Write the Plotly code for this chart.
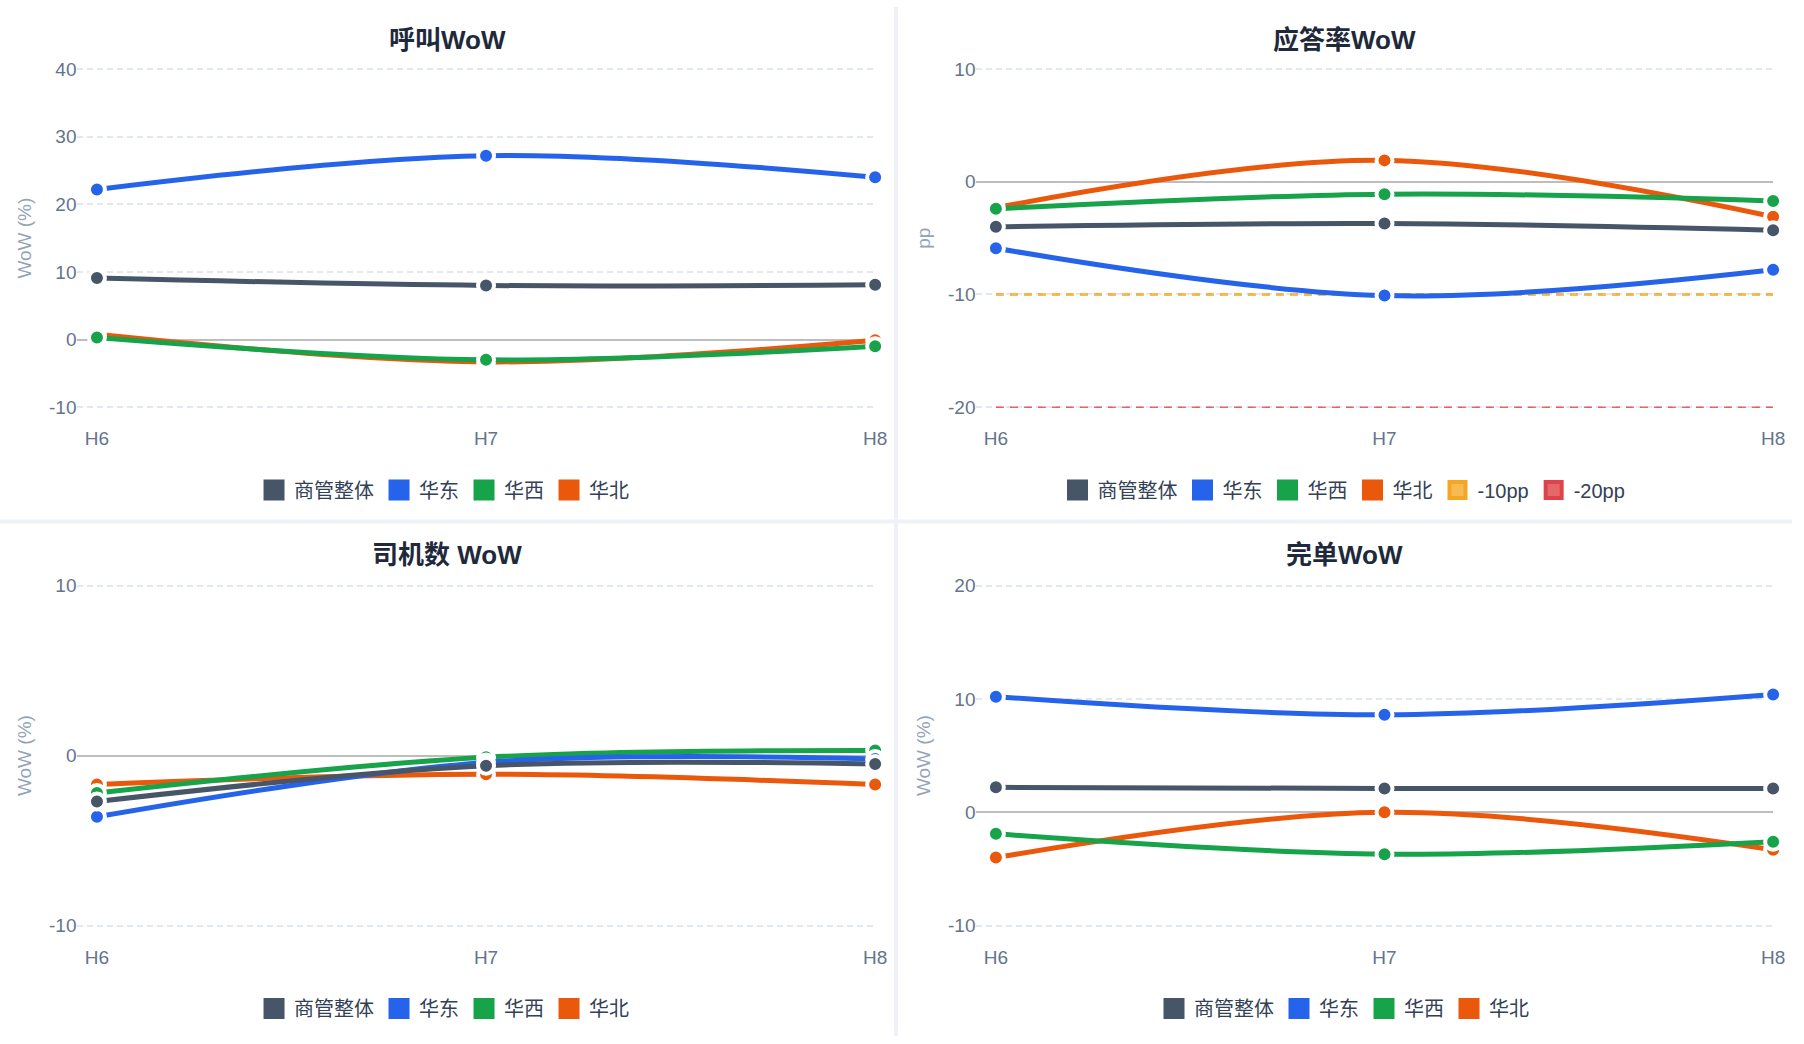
import plotly.graph_objects as go
from plotly.subplots import make_subplots

hours = ['H6', 'H7', 'H8']
series_names = ['商管整体', '华东', '华西', '华北']
series_colors = ['#475569', '#2563eb', '#16a34a', '#ea580c']

# 呼叫WoW (%)
call_all = [9.1, 8.0, 8.1]
call_east = [22.2, 27.2, 24.0]
call_west = [0.3, -3.0, -1.0]
call_north = [0.8, -3.3, -0.1]
call_ticks = [-10, 0, 10, 20, 30, 40]

# 应答率WoW (pp)
answer_all = [-4.0, -3.7, -4.3]
answer_east = [-5.9, -10.1, -7.8]
answer_west = [-2.4, -1.1, -1.7]
answer_north = [-2.3, 1.9, -3.1]
answer_ticks = [-20, -10, 0, 10]
ref_values = [-10, -20]
ref_names = ['-10pp', '-20pp']

# 司机数 WoW (%)
driver_all = [-2.7, -0.6, -0.5]
driver_east = [-3.6, -0.4, -0.2]
driver_west = [-2.2, -0.1, 0.3]
driver_north = [-1.7, -1.1, -1.7]
driver_ticks = [-10, 0, 10]

# 完单WoW (%)
order_all = [2.2, 2.1, 2.1]
order_east = [10.2, 8.6, 10.4]
order_west = [-1.9, -3.7, -2.6]
order_north = [-4.0, 0.0, -3.3]
order_ticks = [-10, 0, 10, 20]

FONT = 'Liberation Sans, Noto Sans CJK SC, sans-serif'
PAD_PX = 3          # extra room so edge gridlines are drawn
PLOT_H = 343        # pixel height between first and last tick

fig = make_subplots(rows=2, cols=2)

panels = [
    (1, 1, [call_all, call_east, call_west, call_north], 'legend', call_ticks, 'WoW (%)'),
    (1, 2, [answer_all, answer_east, answer_west, answer_north], 'legend2', answer_ticks, 'pp'),
    (2, 1, [driver_all, driver_east, driver_west, driver_north], 'legend3', driver_ticks, 'WoW (%)'),
    (2, 2, [order_all, order_east, order_west, order_north], 'legend4', order_ticks, 'WoW (%)'),
]

ref_line_colors = ['rgba(245,158,11,0.7)', 'rgba(220,38,38,0.7)']
ref_fill = ['#f8bb54', '#e66767']
ref_border = ['#f5a623', '#e0424a']
ref_widths = [3, 1.5]

for row, col, values, lg, ticks, ytitle in panels:
    has_refs = (row, col) == (1, 2)
    if has_refs:
        for k, rv in enumerate(ref_values):
            fig.add_trace(go.Scatter(x=hours, y=[rv] * len(hours), mode='lines',
                                     line=dict(color=ref_line_colors[k], width=ref_widths[k], dash='8px,6px'),
                                     showlegend=False, hoverinfo='skip'),
                          row=row, col=col)
    # draw last series first so 商管整体 ends up on top
    for i in reversed(range(len(series_names))):
        c = series_colors[i]
        fig.add_trace(go.Scatter(x=hours, y=values[i], mode='lines+markers',
                                 line=dict(shape='spline', width=5, color=c),
                                 marker=dict(size=16, color=c, line=dict(width=4, color='white')),
                                 cliponaxis=False, showlegend=False, name=series_names[i]),
                      row=row, col=col)
    # legend entries (square icons)
    for i, name in enumerate(series_names):
        c = series_colors[i]
        fig.add_trace(go.Scatter(x=[None], y=[None], mode='markers', name=name, legend=lg,
                                 marker=dict(symbol='square', size=16, color=c, line=dict(width=5, color=c))),
                      row=row, col=col)
    if has_refs:
        for k, name in enumerate(ref_names):
            fig.add_trace(go.Scatter(x=[None], y=[None], mode='markers', name=name, legend=lg,
                                     marker=dict(symbol='square', size=16, color=ref_fill[k],
                                                 line=dict(width=4, color=ref_border[k]))),
                          row=row, col=col)

    pad = (ticks[-1] - ticks[0]) * PAD_PX / PLOT_H
    fig.update_yaxes(range=[ticks[0] - pad, ticks[-1] + pad],
                     tickmode='array', tickvals=ticks, ticktext=[str(t) for t in ticks],
                     showgrid=True, gridcolor='#e2e8f0', griddash='6px,4px', gridwidth=1.6,
                     zeroline=True, zerolinecolor='#bdbdbd', zerolinewidth=1.6,
                     showline=False, ticks='',
                     tickfont=dict(size=19, color='#64748b', family=FONT),
                     title=dict(text=ytitle, font=dict(size=19, color='#94a3b8', family=FONT), standoff=12),
                     row=row, col=col)
    fig.update_xaxes(type='category', range=[-0.05, 2], showgrid=False, zeroline=False,
                     showline=False, ticks='', ticklabelstandoff=18 - PAD_PX,
                     tickfont=dict(size=19, color='#64748b', family=FONT),
                     row=row, col=col)

left_dom = [78 / 1804, 881 / 1804]
right_dom = [983 / 1804, 1785 / 1804]
top_dom = [1 - (406 + PAD_PX) / 1044, 1 - (63 - PAD_PX) / 1044]
bottom_dom = [1 - (932 + PAD_PX) / 1044, 1 - (587 - PAD_PX) / 1044]
for row, col, *_ in panels:
    fig.update_xaxes(domain=left_dom if col == 1 else right_dom, row=row, col=col)
    fig.update_yaxes(domain=top_dom if row == 1 else bottom_dom, row=row, col=col)

titles = ['呼叫WoW', '应答率WoW', '司机数 WoW', '完单WoW']
title_pos = [(450 / 1804, 1 - 33 / 1044), (1353 / 1804, 1 - 33 / 1044),
             (450 / 1804, 1 - 556 / 1044), (1353 / 1804, 1 - 556 / 1044)]
for t, (tx, ty) in zip(titles, title_pos):
    fig.add_annotation(text='<b>' + t + '</b>', x=tx, y=ty, xref='paper', yref='paper',
                       xanchor='center', yanchor='middle', showarrow=False,
                       font=dict(size=26, color='#1e293b', family=FONT))

legend_style = dict(orientation='h', xanchor='center', yanchor='middle',
                    font=dict(size=20, color='#334155', family=FONT),
                    itemsizing='trace', bgcolor='rgba(0,0,0,0)')
fig.update_layout(
    legend=dict(x=447 / 1804, y=1 - 490 / 1044, **legend_style),
    legend2=dict(x=1353 / 1804, y=1 - 490 / 1044, **legend_style),
    legend3=dict(x=447 / 1804, y=1 - 1016 / 1044, **legend_style),
    legend4=dict(x=1353 / 1804, y=1 - 1016 / 1044, **legend_style),
)

# card separators
sep = '#eef2f7'
fig.add_shape(type='rect', xref='paper', yref='paper', x0=900 / 1804, x1=904 / 1804, y0=0, y1=1,
              fillcolor=sep, line=dict(width=0), layer='below')
fig.add_shape(type='rect', xref='paper', yref='paper', x0=0, x1=1, y0=1 - 524 / 1044, y1=1 - 520 / 1044,
              fillcolor=sep, line=dict(width=0), layer='below')

fig.update_layout(width=1804, height=1044, margin=dict(l=0, r=0, t=0, b=0),
                  paper_bgcolor='white', plot_bgcolor='white',
                  font=dict(family=FONT), hovermode='closest')

fig.write_html("out.html", config={'displayModeBar': False},
               post_script="document.body.style.margin='0';document.body.style.overflow='hidden';")
